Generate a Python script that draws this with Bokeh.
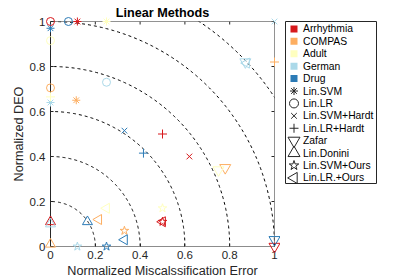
import numpy as np
from bokeh.plotting import figure
from bokeh.models import Range1d, FixedTicker, ColumnDataSource, Span
from bokeh.layouts import row
from bokeh.embed import file_html
from bokeh.resources import INLINE
from bokeh.core.properties import value

# ---------------- data ----------------
datasets = ["Arrhythmia", "COMPAS", "Adult", "German", "Drug"]
dataset_colors = ["#d7191c", "#fdae61", "#ffffbf", "#abd9e9", "#2c7bb6"]
methods = ["Lin.SVM", "Lin.LR", "Lin.SVM+Hardt", "Lin.LR+Hardt", "Zafar",
           "Lin.Donini", "Lin.SVM+Ours", "Lin.LR.+Ours"]

svm_sets = ["Arrhythmia", "COMPAS", "Adult", "German", "Drug"]
svm_err = [0.12, 0.115, 0.25, 0.0, 0.0]
svm_deo = [1.0, 0.65, 1.0, 0.64, 0.97]

lr_sets = ["Arrhythmia", "COMPAS", "Adult", "German", "Drug"]
lr_err = [0.0, 0.0, 0.0, 0.25, 0.08]
lr_deo = [1.0, 0.705, 0.915, 0.73, 1.0]

svmh_sets = ["Arrhythmia", "German", "Drug"]
svmh_err = [0.62, 1.0, 0.33]
svmh_deo = [0.40, 1.0, 0.515]

lrh_sets = ["Arrhythmia", "COMPAS", "Adult", "Drug"]
lrh_err = [0.5, 1.0, 0.0, 0.415]
lrh_deo = [0.5, 0.82, 0.665, 0.415]

zafar_sets = ["Arrhythmia", "COMPAS", "Adult", "German", "Drug"]
zafar_err = [1.0, 0.78, 0.75, 0.87, 1.0]
zafar_deo = [0.0, 0.35, 0.34, 0.82, 0.03]

donini_sets = ["Arrhythmia", "COMPAS", "German", "Drug"]
donini_err = [0.0, 0.0, 0.0, 0.165]
donini_deo = [0.11, 0.01, 0.10, 0.11]

svmo_sets = ["Arrhythmia", "COMPAS", "Adult", "German", "Drug"]
svmo_err = [0.5, 0.33, 0.5, 0.12, 0.25]
svmo_deo = [0.11, 0.07, 0.17, 0.0, 0.0]

lro_sets = ["Arrhythmia", "COMPAS", "Adult", "German", "Drug"]
lro_err = [0.5, 0.215, 0.25, 0.875, 0.33]
lro_deo = [0.11, 0.12, 0.17, 0.815, 0.03]

radii = [0.2, 0.4, 0.6, 0.8, 1.0, 1.2]
ticks = [0, 0.2, 0.4, 0.6, 0.8, 1]
tick_labels = ["0", "0.2", "0.4", "0.6", "0.8", "1"]

# ---------------- styles ----------------
FONT = "Liberation Sans"
AX = "#262626"
HALF_PI = np.pi / 2
FRAME_W, FRAME_H = 224, 225
method_data = [
    (svm_sets, svm_err, svm_deo),
    (lr_sets, lr_err, lr_deo),
    (svmh_sets, svmh_err, svmh_deo),
    (lrh_sets, lrh_err, lrh_deo),
    (zafar_sets, zafar_err, zafar_deo),
    (donini_sets, donini_err, donini_deo),
    (svmo_sets, svmo_err, svmo_deo),
    (lro_sets, lro_err, lro_deo),
]
shape = ["asterisk", "circle", "x", "cross", "inverted_triangle", "triangle", "star", "triangle"]
angle = [0, 0, 0, 0, 0, 0, 0, HALF_PI]
size_plot = [8, 8, 8, 9, 11, 10, 9, 10]
size_leg = [8, 9, 8, 9, 12, 12, 10, 11]

color_of = dict(zip(datasets, dataset_colors))

# ---------------- main plot ----------------
p = figure(frame_width=FRAME_W, frame_height=FRAME_H, x_range=Range1d(0, 1), y_range=Range1d(0, 1),
           output_backend="svg", toolbar_location=None, title="Linear Methods",
           min_border_left=50, min_border_top=20, min_border_right=6, min_border_bottom=32)
p.background_fill_color = "white"
p.border_fill_color = "white"
p.outline_line_color = None
p.grid.visible = False

p.title.align = "center"
p.title.text_font = FONT
p.title.text_font_size = "12.65px"
p.title.text_font_style = "bold"
p.title.text_color = "black"
p.title.standoff = 3

theta = np.linspace(0, HALF_PI, 200)
for r in radii:
    p.line(r * np.cos(theta), r * np.sin(theta), line_color="black",
           line_dash="3 3", line_width=1)

for (sets, xs, ys), m, a, s in zip(method_data, shape, angle, size_plot):
    src = ColumnDataSource(dict(x=xs, y=ys, c=[color_of[d] for d in sets]))
    p.scatter("x", "y", source=src, marker=m, angle=a, size=s, line_color="c",
              fill_color=None, line_width=1, level="overlay")

def style_axis(ax):
    ax.ticker = FixedTicker(ticks=ticks)
    ax.major_label_overrides = dict(zip(ticks, tick_labels))
    ax.minor_tick_line_color = None
    ax.major_tick_in = 3
    ax.major_tick_out = 0
    ax.major_tick_line_color = AX
    ax.axis_line_color = AX
    ax.major_label_text_font = FONT
    ax.major_label_text_color = AX
    ax.major_label_text_font_size = "11.5px"
    ax.axis_label_text_font = FONT
    ax.axis_label_text_font_style = "normal"
    ax.axis_label_text_color = AX
    ax.axis_label_text_font_size = "12.65px"

xa = p.xaxis[0]
style_axis(xa)
xa.axis_label = "Normalized Miscalssification Error"
xa.major_label_standoff = 4
xa.axis_label_standoff = 2
xa.axis_line_color = "#8c8c8c"

ya = p.yaxis[0]
style_axis(ya)
ya.axis_label = "Normalized DEO"
ya.major_label_standoff = 5
ya.axis_label_standoff = 1

# box: top and right edges with inward ticks
p.add_layout(Span(location=1, dimension="width", line_color=AX, line_width=1))
p.add_layout(Span(location=1, dimension="height", line_color=AX, line_width=1))
tick_len_y = 3 / FRAME_H
tick_len_x = 3 / FRAME_W
p.segment(x0=ticks, y0=[1] * len(ticks), x1=ticks, y1=[1 - tick_len_y] * len(ticks),
          line_color=AX, line_width=1)
p.segment(x0=[1] * len(ticks), y0=ticks, x1=[1 - tick_len_x] * len(ticks), y1=ticks,
          line_color=AX, line_width=1)

# ---------------- legend panel ----------------
leg_labels = datasets + methods
n = len(leg_labels)
q = figure(frame_width=91, frame_height=162, x_range=Range1d(0, 91),
           y_range=Range1d(n - 0.55, -0.6), output_backend="svg", toolbar_location=None,
           x_axis_location=None, y_axis_location=None,
           min_border_left=5, min_border_top=21, min_border_right=2, min_border_bottom=94)
q.grid.visible = False
q.outline_line_color = AX
q.outline_line_width = 1
q.background_fill_color = "white"
q.border_fill_color = "white"

idx = list(range(n))
q.scatter(x=[8.5] * len(datasets), y=idx[:len(datasets)], marker="square", size=7,
          fill_color=dataset_colors, line_color=None)
q.scatter(x=[8.5] * len(methods), y=idx[len(datasets):], marker=shape, size=size_leg,
          angle=angle, line_color=AX, fill_color=None, line_width=1)
q.text(x=[17.5] * n, y=idx, text=leg_labels, text_font=value(FONT),
       text_font_size="10.35px", text_baseline="middle", text_align="left",
       text_color="black")

layout = row(p, q)
open("out.html", "w").write(file_html(layout, INLINE))
